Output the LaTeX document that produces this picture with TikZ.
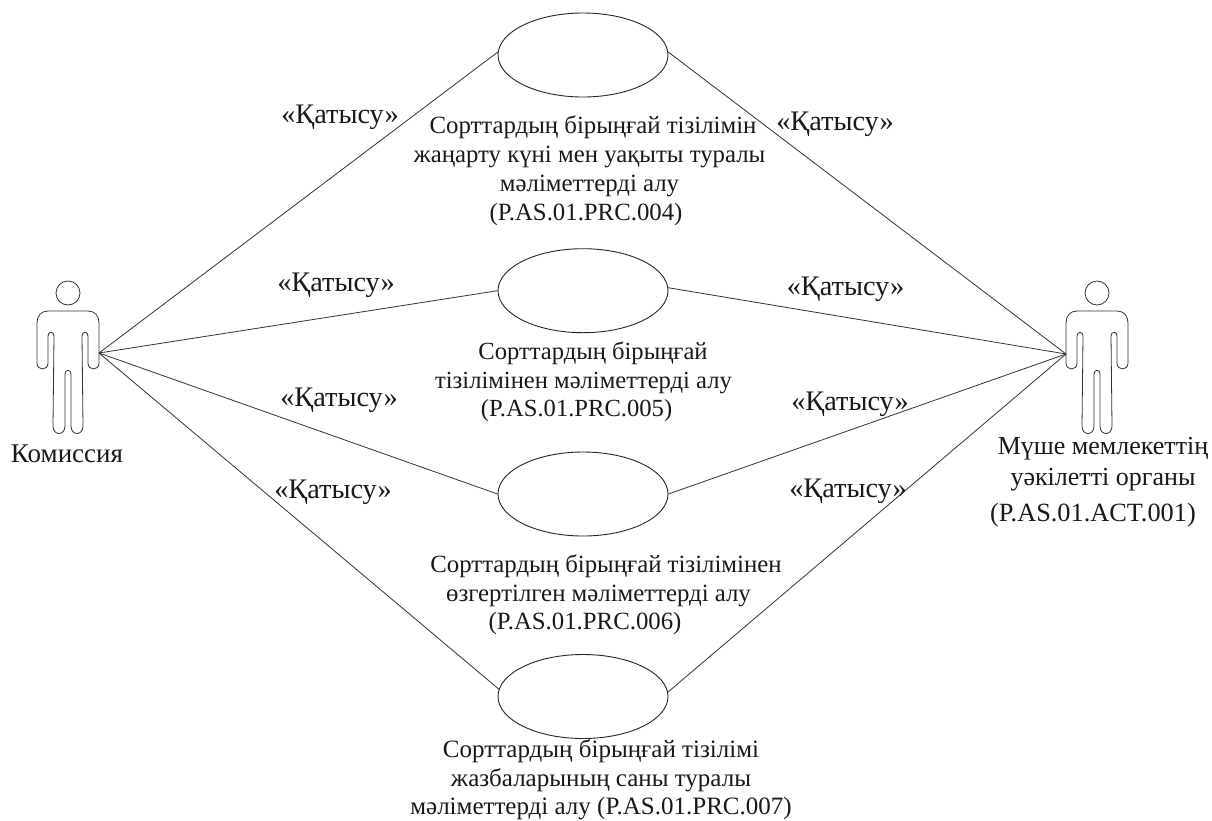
\documentclass[tikz,border=0pt]{standalone}
\usepackage{fontspec}
\setmainfont{Liberation Serif}
\usetikzlibrary{shapes.geometric}
\tikzset{
 uc/.style={ellipse,draw=black!85,line width=0.9pt,minimum width=170pt,minimum height=84pt,inner sep=0pt},
 lbl/.style={font=\fontsize{25pt}{28.7pt}\selectfont,inner sep=0pt,align=center,text=black!90},
 qq/.style={font=\fontsize{28.3pt}{30pt}\selectfont,inner sep=0pt,align=center,text=black!90},
 lk/.style={line width=0.8pt,draw=black!80},
 act/.style={line width=0.8pt,draw=black!80,line join=round}
}
\newcommand{\actor}[1]{%
 \begin{scope}[shift={(#1)}]
 \draw[act] (0,-18) circle (12);
 \draw[act] (-20,0) -- (20,0) .. controls (27,0) and (31,5) .. (31,12) -- (31,52)
  .. controls (31,60) and (20,60) .. (20,52) -- (20,25) .. controls (20,20) and (14,20) .. (14,25)
  -- (15,115) .. controls (15,125) and (3,125) .. (3,115) -- (3,63) .. controls (3,58) and (-3,58) .. (-3,63)
  -- (-3,115) .. controls (-3,125) and (-15,125) .. (-15,115) -- (-14,25) .. controls (-14,20) and (-20,20) .. (-20,25)
  -- (-20,52) .. controls (-20,60) and (-31,60) .. (-31,52) -- (-31,12) .. controls (-31,5) and (-27,0) .. (-20,0) -- cycle;
 \end{scope}}
\begin{document}
\begin{tikzpicture}[x=1pt,y=-1pt]
\useasboundingbox (0,0) rectangle (1212,820);
\fill[white] (0,0) rectangle (1212,820);
\node[uc] (u1) at (583,55) {};
\node[uc] (u2) at (583,290.7) {};
\node[uc] (u3) at (583,494) {};
\node[uc] (u4) at (583,696.5) {};
\coordinate (l) at (99,353);
\coordinate (r) at (1066,354);
\draw[lk] (l) -- (u1.178);
\draw[lk] (l) -- (u2.west);
\draw[lk] (l) -- (u3.west);
\draw[lk] (l) -- (u4.175);
\draw[lk] (u1.2) -- (r);
\draw[lk] (u2.2) -- (r);
\draw[lk] (u3.east) -- (r);
\draw[lk] (u4.3) -- (r);
\actor{68,311}
\actor{1097,311}
\node[lbl,font=\fontsize{27pt}{30pt}\selectfont] (k) at (67,454) {Комиссия};
\node[lbl,font=\fontsize{26pt}{31pt}\selectfont] (m) at (1103,464) {Мүше мемлекеттің\\уәкілетті органы};
\node[lbl,font=\fontsize{26.3pt}{30pt}\selectfont] (m2) at (1093,515) {(P.AS.01.ACT.001)};
\node[qq] (q1) at (340,117) {«Қатысу»};
\node[qq] (q2) at (835,124) {«Қатысу»};
\node[qq] (q3) at (336,285) {«Қатысу»};
\node[qq] (q4) at (845.5,289) {«Қатысу»};
\node[qq] (q5) at (339,400) {«Қатысу»};
\node[qq] (q6) at (850,404) {«Қатысу»};
\node[qq] (q7) at (333,492) {«Қатысу»};
\node[qq] (q8) at (848,491) {«Қатысу»};
\node[lbl,font=\fontsize{24.8pt}{29pt}\selectfont] (t1) at (589.5,170.5) {\hspace*{7pt}Сорттардың бірыңғай тізілімін\\жаңарту күні мен уақыты туралы\\мәліметтерді алу\hspace*{10pt}\\(P.AS.01.PRC.004)\hspace*{7pt}};
\node[lbl,font=\fontsize{24.6pt}{28.5pt}\selectfont] (t2) at (583.5,382) {\hspace*{19pt}Сорттардың бірыңғай\\тізілімінен мәліметтерді алу\\(P.AS.01.PRC.005)\hspace*{14pt}};
\node[lbl,font=\fontsize{24.8pt}{28.5pt}\selectfont] (t3) at (598.5,595) {\hspace*{15pt}Сорттардың бірыңғай тізілімінен\\өзгертілген мәліметтерді алу\\(P.AS.01.PRC.006)\hspace*{27pt}};
\node[lbl,font=\fontsize{25pt}{28.5pt}\selectfont] (t4) at (601,780) {Сорттардың бірыңғай тізілімі\\жазбаларының саны туралы\\мәліметтерді алу (P.AS.01.PRC.007)};
\end{tikzpicture}
\end{document}
